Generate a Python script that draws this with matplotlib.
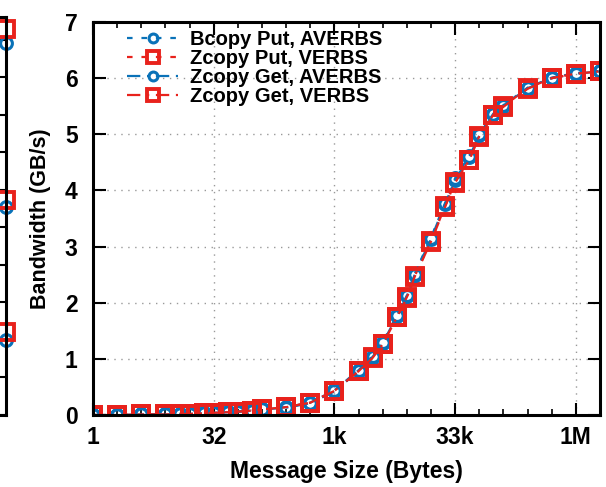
import matplotlib
matplotlib.use("Agg")
from matplotlib import pyplot as plt
from matplotlib.ticker import FixedLocator, NullFormatter

plt.rcParams['font.family'] = ['Liberation Sans', 'DejaVu Sans']
plt.rcParams['font.weight'] = 'bold'

# message sizes (bytes) and bandwidth (GB/s)
sizes = [1, 2, 4, 8, 12, 16, 24, 32, 48, 64, 96, 128, 256, 512, 1024, 2048, 3072,
         4096, 6144, 8192, 10240, 16384, 24576, 32768, 49152, 65536, 98304,
         131072, 262144, 524288, 1048576, 2097152]
bcopy_put_averbs = [0.00, 0.00, 0.01, 0.01, 0.02, 0.02, 0.03, 0.04, 0.05, 0.06, 0.08, 0.10,
                    0.14, 0.22, 0.44, 0.80, 1.05, 1.30, 1.78, 2.13, 2.52, 3.16, 3.78, 4.22,
                    4.62, 5.00, 5.37, 5.52, 5.83, 6.01, 6.09, 6.13]
zcopy_put_verbs = [0.00, 0.00, 0.01, 0.01, 0.02, 0.02, 0.03, 0.04, 0.05, 0.06, 0.08, 0.10,
                   0.14, 0.22, 0.43, 0.78, 1.03, 1.27, 1.75, 2.10, 2.47, 3.10, 3.72, 4.15,
                   4.55, 4.97, 5.35, 5.50, 5.82, 6.00, 6.08, 6.12]
zcopy_get_averbs = [0.00, 0.00, 0.01, 0.01, 0.02, 0.02, 0.03, 0.04, 0.05, 0.06, 0.08, 0.10,
                    0.13, 0.21, 0.42, 0.79, 1.04, 1.28, 1.76, 2.12, 2.50, 3.14, 3.76, 4.19,
                    4.60, 4.98, 5.36, 5.51, 5.82, 6.00, 6.08, 6.12]
zcopy_get_verbs = [0.00, 0.00, 0.01, 0.01, 0.02, 0.02, 0.03, 0.04, 0.05, 0.06, 0.08, 0.10,
                   0.14, 0.22, 0.43, 0.78, 1.02, 1.26, 1.74, 2.09, 2.46, 3.09, 3.71, 4.14,
                   4.54, 4.96, 5.34, 5.49, 5.81, 6.00, 6.08, 6.12]

xtick_pos = [1, 32, 1024, 32768, 1048576]
xtick_labels = ["1", "32", "1k", "33k", "1M"]

# last points of the neighbouring panel (cut off at the left edge)
left_circle_vals = [9.92, 5.55, 2.0]
left_square_vals = [10.27, 5.73, 2.21]

blue = '#0a72b8'
red = '#e8221c'

fig = plt.figure(figsize=(6.06, 4.87), dpi=100)

# neighbouring panel, only its right edge is visible
axl = fig.add_axes([-0.6, 0.148, 0.6099, 0.817])
axl.set_xlim(0, 10)
axl.set_ylim(0, 10.6)
axl.set_yticks(range(0, 11))
axl.tick_params(axis='y', direction='in', right=True, left=False, labelleft=False, length=6, width=1.5)
axl.tick_params(axis='x', bottom=False, labelbottom=False)
for s in axl.spines.values():
    s.set_linewidth(2.2)
axl.plot([10] * 3, left_circle_vals, 'o', mfc='none', mec=blue, ms=8.5, mew=2.2, clip_on=False)
axl.plot([10] * 3, left_square_vals, 's', mfc='none', mec=red, ms=11.5, mew=2.8, clip_on=False)

ax = fig.add_axes([0.1535, 0.1478, 0.8366, 0.807])
ax.set_xscale('log', base=2)

ax.plot(sizes, bcopy_put_averbs, color=blue, ls=(0, (2.5, 4)), lw=1.6, marker='o',
        mfc='none', mec=blue, ms=8.5, mew=2.2, label='Bcopy Put, AVERBS')
ax.plot(sizes, zcopy_put_verbs, color=red, ls=(0, (2.5, 4)), lw=1.6, marker='s',
        mfc='none', mec=red, ms=11.5, mew=2.8, label='Zcopy Put, VERBS')
ax.plot(sizes, zcopy_get_averbs, color=blue, ls=(0, (6, 3, 1, 3)), lw=1.6, marker='o',
        mfc='none', mec=blue, ms=8.5, mew=2.2, label='Zcopy Get, AVERBS')
ax.plot(sizes, zcopy_get_verbs, color=red, ls=(0, (6, 3, 1, 3)), lw=1.6, marker='s',
        mfc='none', mec=red, ms=11.5, mew=2.8, label='Zcopy Get, VERBS')

ax.set_xlim(1, 2 ** 21)
ax.set_ylim(0, 7)
ax.xaxis.set_major_locator(FixedLocator(xtick_pos))
ax.set_xticklabels(xtick_labels)
ax.xaxis.set_minor_locator(FixedLocator([2 ** i for i in range(22)]))
ax.xaxis.set_minor_formatter(NullFormatter())
ax.set_yticks(range(0, 8))

ax.tick_params(which='major', direction='in', top=True, right=True, length=9, width=1.5,
               labelsize=16.5, pad=8)
ax.tick_params(which='minor', direction='in', top=True, right=True, length=4, width=1.2)
ax.tick_params(axis='y', pad=11)
for s in ax.spines.values():
    s.set_linewidth(2.2)

ax.grid(True, which='major', color='#999999', ls=(0, (1, 4)), lw=1.0)

ax.set_xlabel('Message Size (Bytes)', fontsize=16.5, fontweight='bold', labelpad=8)
ax.set_ylabel('Bandwidth (GB/s)', fontsize=15.5, fontweight='bold', labelpad=10)

leg = ax.legend(loc='upper left', frameon=False, fontsize=14.5, numpoints=1, markerscale=0.75,
                handlelength=2.5, handletextpad=0.6, labelspacing=0.0,
                borderaxespad=0.3, bbox_to_anchor=(0.04, 1.015))

fig.savefig('out.png', dpi=100)
